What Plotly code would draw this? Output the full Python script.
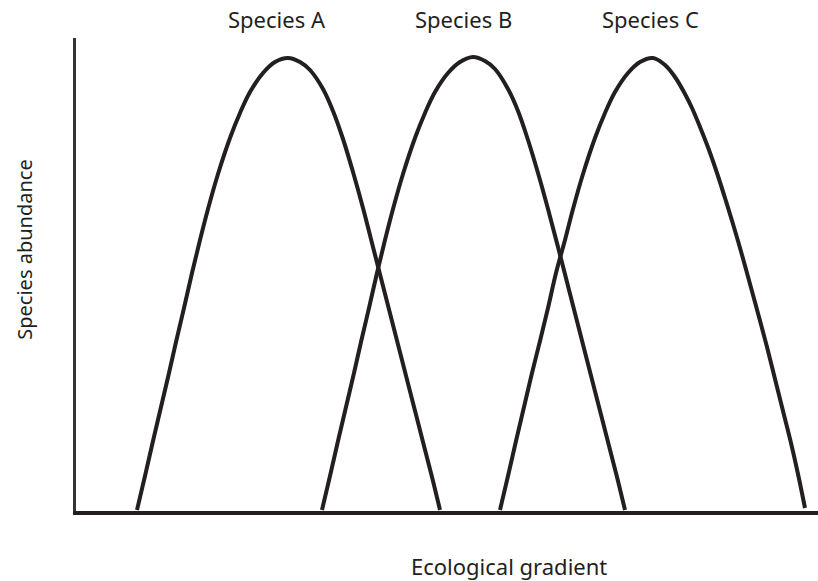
import plotly.graph_objects as go

# abundance curves (gradient position, abundance)
species_a_x = [62, 70, 78, 86, 94, 101, 109, 117, 125, 133, 143, 155, 165, 175, 188, 200, 213,
               225, 235, 248, 258, 268, 278, 288, 298, 308, 318, 328, 338, 348, 357, 365]
species_a_y = [3, 37, 72, 106, 140, 171, 205, 240, 273, 304, 339, 375, 400, 421, 440, 451, 455,
               451, 443, 424, 402, 374, 341, 305, 266, 227, 188, 149, 110, 71, 36, 3]

species_b_x = [247, 255, 263, 271, 279, 286, 294, 302, 310, 318, 328, 340, 350, 360, 373, 385, 398,
               410, 420, 433, 443, 453, 463, 473, 483, 493, 503, 513, 523, 533, 542, 550]
species_b_y = [3, 37, 72, 106, 140, 171, 205, 240, 273, 304, 339, 375, 400, 421, 440, 451, 456,
               452, 444, 424, 402, 373, 340, 304, 266, 227, 188, 149, 110, 71, 36, 3]

species_c_x = [425, 433, 441, 449, 457, 465, 473, 481, 490, 498, 508, 520, 530, 540, 553, 565, 578,
               590, 600, 610, 617, 625, 634, 642, 650, 658, 667, 675, 684, 692, 700, 708, 716, 723, 730]
species_c_y = [3, 37, 72, 106, 140, 172, 205, 240, 273, 304, 339, 375, 400, 421, 440, 451, 455,
               448, 436, 419, 405, 386, 363, 340, 315, 289, 258, 229, 196, 166, 134, 102, 70, 39, 5]

species_names = ["Species A", "Species B", "Species C"]
label_x = [0.271, 0.522, 0.774]

INK = "#231f20"
FONT = "Noto Sans"

fig = go.Figure()
for xs, ys, name in [(species_a_x, species_a_y, species_names[0]),
                     (species_b_x, species_b_y, species_names[1]),
                     (species_c_x, species_c_y, species_names[2])]:
    fig.add_trace(go.Scatter(
        x=xs, y=ys, name=name, mode="lines",
        line=dict(color=INK, width=4, shape="spline", smoothing=1.0),
        hoverinfo="skip",
    ))

annotations = []
for name, lx in zip(species_names, label_x):
    annotations.append(dict(text=name, x=lx, y=1.040, xref="paper", yref="paper",
                            xanchor="center", yanchor="middle", showarrow=False,
                            font=dict(size=22, color=INK)))
annotations.append(dict(text="Ecological gradient", x=0.584, y=-0.116, xref="paper", yref="paper",
                        xanchor="center", yanchor="middle", showarrow=False,
                        font=dict(size=22, color=INK)))
annotations.append(dict(text="Species abundance", x=-0.069, y=0.552, xref="paper", yref="paper",
                        xanchor="center", yanchor="middle", showarrow=False, textangle=-90,
                        font=dict(size=20, color=INK)))

fig.update_layout(
    width=818, height=581,
    margin=dict(l=76, r=0, t=38, b=70),
    paper_bgcolor="white", plot_bgcolor="white",
    showlegend=False,
    font=dict(family=FONT, color=INK),
    annotations=annotations,
    xaxis=dict(range=[1, 743], showgrid=False, zeroline=False, showticklabels=False,
               ticks="", showline=True, linecolor=INK, linewidth=4),
    yaxis=dict(range=[2, 475], showgrid=False, zeroline=False, showticklabels=False,
               ticks="", showline=True, linecolor="#333", linewidth=3),
)

fig.write_html("out.html", config={"displayModeBar": False},
               post_script="document.body.style.margin='0';")
